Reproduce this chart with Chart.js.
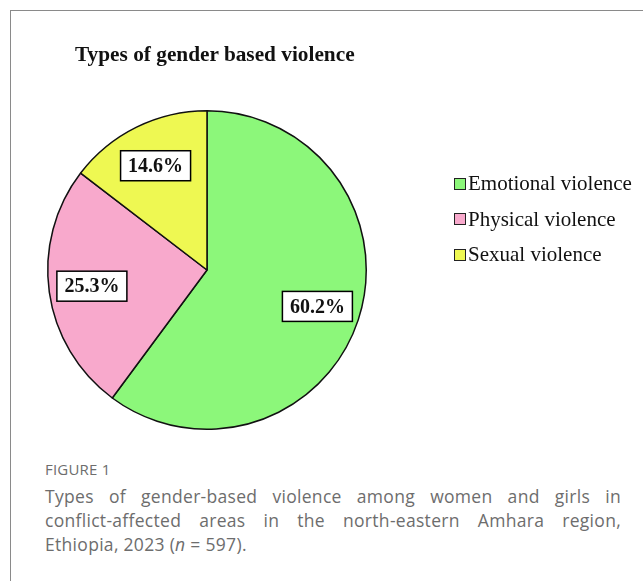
<!DOCTYPE html>
<html>
<head>
<meta charset="utf-8">
<script src="https://cdn.jsdelivr.net/npm/chart.js@4.4.1/dist/chart.umd.min.js"></script>
<style>
    html, body { margin: 0; padding: 0; background: #fff; }
    body { width: 643px; height: 581px; position: relative; overflow: hidden; }
    .frame { position: absolute; left: 10px; top: 10px; width: 700px; height: 700px;
             border-top: 1px solid #8a8a8a; border-left: 1px solid #8a8a8a; }
    #chart-wrap { position: absolute; left: 0; top: 0; width: 643px; height: 440px; }
    .title { position: absolute; left: 75px; top: 42px; font: bold 21.3px 'Liberation Serif', serif; color: #111; }
    #legend { position: absolute; left: 454px; top: 166px; font: 21px 'Liberation Serif', serif; color: #111; }
    #legend .item { height: 35.5px; display: flex; align-items: center; }
    #legend .box { width: 10px; height: 10px; border: 1.5px solid #222; margin-right: 2px; }
    .fig { position: absolute; left: 45px; top: 459px; font: 15px 'Open Sans', sans-serif; color: #6d6d6d; letter-spacing: 0.2px; }
    .caption { position: absolute; left: 45px; top: 484px; width: 576px; font: 17.5px 'Open Sans', sans-serif;
               color: #6d6d6d; line-height: 24px; letter-spacing: 0.3px; }
    .caption .j { text-align: justify; text-align-last: justify; }
</style>
</head>
<body>
<div class="frame"></div>
<div id="chart-wrap"><canvas id="pieChart"></canvas></div>
<div class="title">Types of gender based violence</div>
<div id="legend"></div>
<div class="fig">FIGURE 1</div>
<div class="caption">
    <div class="j">Types of gender-based violence among women and girls in</div>
    <div class="j">conflict-affected areas in the north-eastern Amhara region,</div>
    <div>Ethiopia, 2023 (<i>n</i> = 597).</div>
</div>

<script>
const categories = ['Emotional violence', 'Physical violence', 'Sexual violence'];
const percents = [60.2, 25.3, 14.6];
const colors = ['#8cf77a', '#f8a9cc', '#eef852'];

// Boxed percentage labels inside each slice
const boxLabels = {
    id: 'boxLabels',
    afterDatasetsDraw(chart) {
        const ctx = chart.ctx;
        const meta = chart.getDatasetMeta(0);
        ctx.save();
        ctx.font = 'bold 20px "Liberation Serif", serif';
        ctx.textAlign = 'center';
        ctx.textBaseline = 'middle';
        meta.data.forEach((arc, i) => {
            const p = arc.getProps(['x', 'y', 'startAngle', 'endAngle', 'outerRadius'], true);
            const mid = (p.startAngle + p.endAngle) / 2;
            const r = p.outerRadius * 0.73;
            const cx = p.x + Math.cos(mid) * r;
            const cy = p.y + Math.sin(mid) * r;
            const txt = percents[i].toFixed(1) + '%';
            const w = 70, h = 30;
            ctx.fillStyle = '#fff';
            ctx.fillRect(cx - w / 2, cy - h / 2, w, h);
            ctx.lineWidth = 1.5;
            ctx.strokeStyle = '#000';
            ctx.strokeRect(cx - w / 2, cy - h / 2, w, h);
            ctx.fillStyle = '#111';
            ctx.fillText(txt, cx, cy + 1);
        });
        ctx.restore();
    }
};

const chart = new Chart(document.getElementById('pieChart'), {
    type: 'pie',
    data: {
        labels: categories,
        datasets: [{
            data: percents,
            backgroundColor: colors,
            borderColor: '#111',
            borderWidth: 1.5,
        }]
    },
    options: {
        responsive: true, maintainAspectRatio: false,
        animation: false,
        layout: { padding: { left: 47, top: 110, right: 276, bottom: 10 } },
        plugins: {
            legend: { display: false },
            tooltip: { enabled: false }
        }
    },
    plugins: [boxLabels]
});

// HTML legend built from the chart data
const legend = document.getElementById('legend');
chart.data.labels.forEach((lab, i) => {
    const item = document.createElement('div');
    item.className = 'item';
    item.innerHTML = `<span class="box" style="background:${colors[i]}"></span><span>${lab}</span>`;
    legend.appendChild(item);
});
</script>
</body>
</html>
